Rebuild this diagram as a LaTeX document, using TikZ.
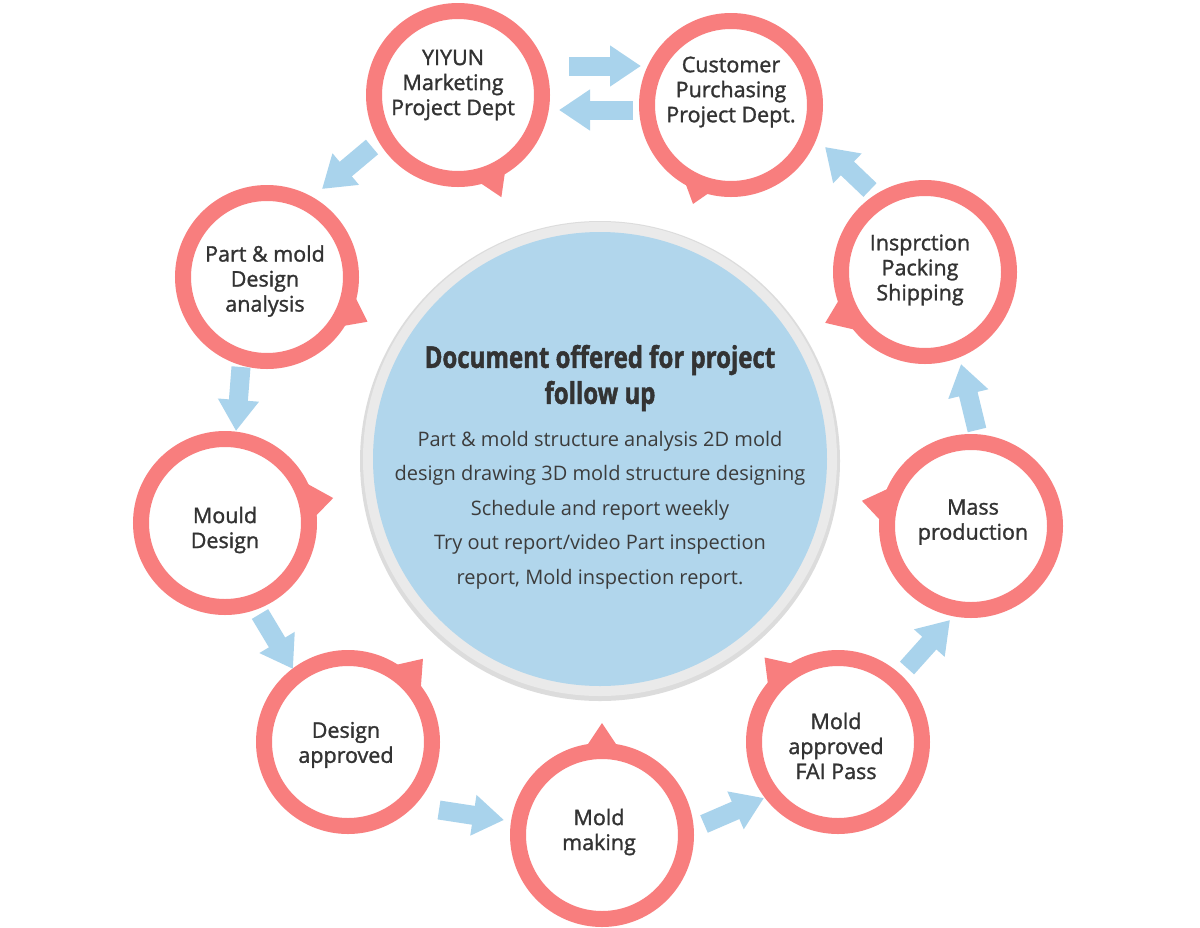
\documentclass[tikz,border=0pt]{standalone}
\usepackage{fontspec}
\setmainfont{Open Sans}
\newfontfamily\labelfont[FakeBold=1.4]{Open Sans}
\newfontfamily\titlefont[FakeStretch=0.8,FakeBold=1.5]{Open Sans}
\usetikzlibrary{arrows.meta,calc}
\definecolor{pinkc}{HTML}{F87E7E}
\definecolor{bluec}{HTML}{B1D6EC}
\definecolor{arrowc}{HTML}{A9D3EC}
\definecolor{txt}{HTML}{333333}
\definecolor{bodytxt}{HTML}{3C3C3C}
\definecolor{ringgray}{HTML}{EAEAEA}
\definecolor{shadowgray}{HTML}{DCDCDC}
\newcommand\tabat[5]{\fill[tab] ($(#1.center)+(#2:84)$) -- ($(#1.center)+(#4:#5)$) -- ($(#1.center)+(#3:84)$) -- cycle;}
\begin{document}
\begin{tikzpicture}[x=1pt,y=-1pt,
  stage/.style={circle,draw=pinkc,line width=16pt,minimum size=168pt,inner sep=0pt},
  lbl/.style={align=center,text=txt,font=\fontsize{21.5}{25}\labelfont\selectfont},
  flow/.style={draw=arrowc,line width=19pt,-{Triangle[length=31pt,width=39pt]}},
  tab/.style={fill=pinkc}]
\useasboundingbox (0,0) rectangle (1200,927);
\fill[white] (0,0) rectangle (1200,927);
% central circle
\node[circle,fill=shadowgray,minimum size=480pt,inner sep=0pt] (ctrshadow) at (600,461) {};
\node[circle,fill=ringgray,minimum size=474pt,inner sep=0pt] (ctrring) at (600,459) {};
\node[circle,fill=bluec,minimum size=454pt,inner sep=0pt] (ctr) at (600,459) {};
\node[align=center,text=txt,font=\fontsize{30}{36}\titlefont\bfseries\selectfont] (title) at (600,378) {Document offered for project\\follow up};
\node[align=center,text=bodytxt,font=\fontsize{20}{34.5}\selectfont] (body) at (600,510) {Part \& mold structure analysis 2D mold\\design drawing 3D mold structure designing\\Schedule and report weekly\\Try out report/video Part inspection\\report, Mold inspection report.};
% stage circles
\node[stage] (yiyun) at (458,95) {};
\node[stage] (cust) at (731,105) {};
\node[stage] (part) at (267,277) {};
\node[stage] (mould) at (225,523) {};
\node[stage] (dapp) at (348,742) {};
\node[stage] (mmake) at (602,835) {};
\node[stage] (mapp) at (838,742) {};
\node[stage] (mass) at (971,526) {};
\node[stage] (insp) at (925,272) {};
% tabs
\tabat{yiyun}{55}{80}{67}{111}
\tabat{cust}{100}{126}{111}{106}
\tabat{part}{7}{37}{24}{110}
\tabat{mould}{-33}{0}{-13}{111}
\tabat{dapp}{-63}{-31}{-48}{112}
\tabat{mmake}{-104}{-76}{-90}{112}
\tabat{mapp}{-145}{-115}{-131}{112}
\tabat{mass}{-150}{-181}{-167}{112}
\tabat{insp}{134}{166}{153}{112}
% labels
\node[lbl] (yiyunT) at (453,85) {YIYUN\\Marketing\\Project Dept};
\node[lbl] (custT) at (731,92) {Customer\\Purchasing\\Project Dept.};
\node[lbl] (partT) at (265,281) {Part \& mold\\Design\\analysis};
\node[lbl] (mouldT) at (225,530) {Mould\\Design};
\node[lbl] (dappT) at (346,745) {Design\\approved};
\node[lbl] (mmakeT) at (599,832) {Mold\\making};
\node[lbl] (mappT) at (836,746) {Mold\\approved\\FAI Pass};
\node[lbl] (massT) at (973,522) {Mass\\production};
\node[lbl] (inspT) at (920,270) {Insprction\\Packing\\Shipping};
% arrow end points
\coordinate (a1s) at (569,66);  \coordinate (a1e) at (641,66);
\coordinate (a2s) at (633,110); \coordinate (a2e) at (559,110);
\coordinate (a3s) at (372,147); \coordinate (a3e) at (322,189);
\coordinate (a4s) at (241,367); \coordinate (a4e) at (236,431);
\coordinate (a5s) at (260,614); \coordinate (a5e) at (293,669);
\coordinate (a6s) at (439,810); \coordinate (a6e) at (504,820);
\coordinate (a7s) at (704,824); \coordinate (a7e) at (764,798);
\coordinate (a8s) at (907,668); \coordinate (a8e) at (950,620);
\coordinate (a9s) at (977,430); \coordinate (a9e) at (961,364);
\coordinate (a10s) at (870,190); \coordinate (a10e) at (825,147);
\foreach \i in {1,...,10} {\draw[flow] (a\i s) -- (a\i e);}
\end{tikzpicture}
\end{document}
